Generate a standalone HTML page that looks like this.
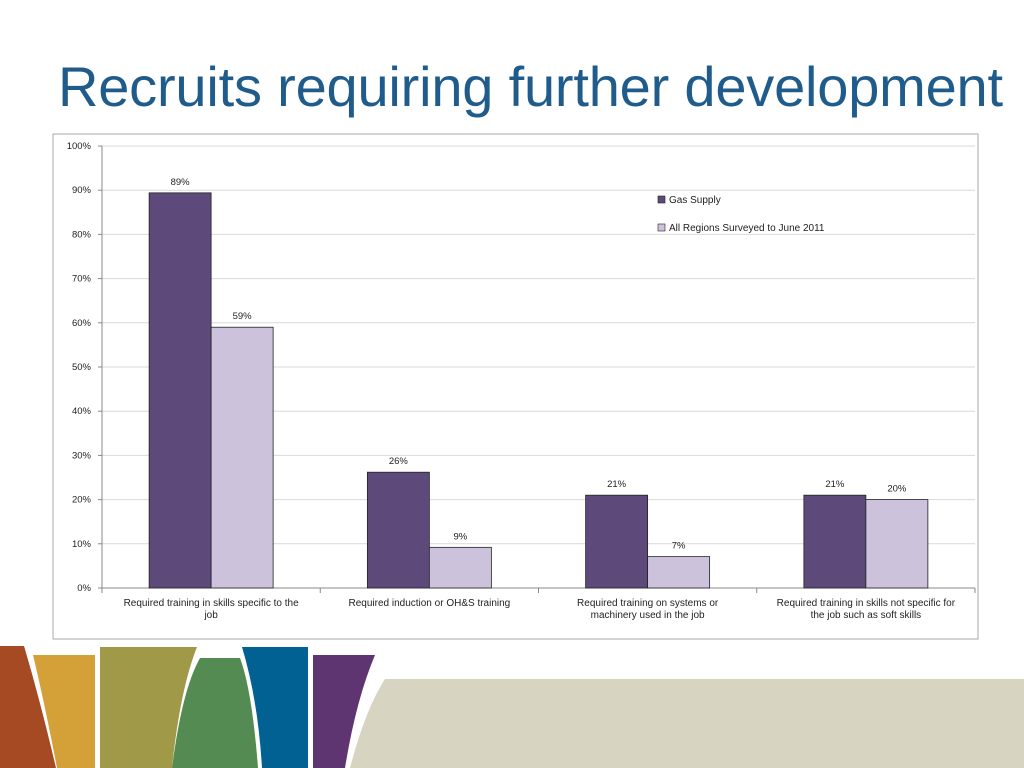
<!DOCTYPE html>
<html><head><meta charset="utf-8"><style>
body{margin:0;width:1024px;height:768px;background:#fff;overflow:hidden;font-family:"Liberation Sans",sans-serif;position:relative}
h1{position:absolute;left:58px;top:54px;margin:0;font-weight:normal;font-size:56px;color:#1F5C8B;letter-spacing:-0.2px;white-space:nowrap}
</style></head><body>
<h1>Recruits requiring further development</h1>
<svg width="1024" height="768" style="position:absolute;left:0;top:0">
<rect x="53" y="134" width="925" height="505" fill="#fff" stroke="#aaa"/>
<g id="grid"></g><g id="bars"></g>
<g font-size="10" fill="#222">
<rect x="658" y="196" width="7" height="7" fill="#5E4A7A" stroke="#222" stroke-width="0.6"/><text x="669" y="203">Gas Supply</text>
<rect x="658" y="224" width="7" height="7" fill="#CDC2DC" stroke="#222" stroke-width="0.6"/><text x="669" y="231">All Regions Surveyed to June 2011</text>
</g>
<g>
<path d="M0 646 L24 646 Q40 700 56 768 L0 768Z" fill="#A64A24"/>
<path d="M33 655 L95 655 L95 768 L57 768 Q45 705 33 655Z" fill="#D4A038"/>
<path d="M100 647 L197 647 Q180 690 172 768 L100 768Z" fill="#A09A48"/>
<path d="M200 658 L240 658 Q252 690 258 768 L172 768 Q182 690 200 658Z" fill="#548B52"/>
<path d="M242 647 L308 647 L308 768 L262 768 Q258 700 242 647Z" fill="#006192"/>
<path d="M313 655 L375 655 Q356 700 345 768 L313 768Z" fill="#5E3570"/>
<path d="M385 679 L1024 679 L1024 768 L350 768 Q365 710 385 679Z" fill="#D8D4C2"/>
</g>
</svg>
<script>
const categories=[["Required training in skills specific to the","job"],["Required induction or OH&S training"],["Required training on systems  or","machinery used in the job"],["Required training in skills not specific for","the job such as soft skills"]];
const gasSupply=[89.4,26.2,21,21];
const allRegions=[59,9.2,7.1,20];
const gasLabels=["89%","26%","21%","21%"];
const allLabels=["59%","9%","7%","20%"];
const ticks=[0,10,20,30,40,50,60,70,80,90,100];
const NS="http://www.w3.org/2000/svg";
const x0=102,x1=975,y0=588,y100=146;
const y=v=>y0-(y0-y100)*v/100;
const bandW=(x1-x0)/categories.length;
const cx=i=>x0+bandW*(i+0.5);
function mk(t,a,p){const e=document.createElementNS(NS,t);for(const k in a)e.setAttribute(k,a[k]);p.appendChild(e);return e;}
const g=document.getElementById('grid'),b=document.getElementById('bars');
ticks.forEach(t=>{const l=mk('line',{x1:x0,x2:x1,y1:y(t),y2:y(t),stroke:t?'#d9d9d9':'#888'},g);

const tx=mk('text',{x:x0-11,y:y(t)+3,'text-anchor':'end','font-size':'9.5',fill:'#222'},g);tx.textContent=t+'%';

mk('line',{x1:x0-4,x2:x0,y1:y(t),y2:y(t),stroke:'#888'},g);});
mk('line',{x1:x0,x2:x0,y1:y100,y2:y0,stroke:'#888'},g);
for(let i=0;i<=categories.length;i++)mk('line',{x1:x0+bandW*i,x2:x0+bandW*i,y1:y0,y2:y0+5,stroke:'#888'},g);
const bw=62;
categories.forEach((c,i)=>{
 [[gasSupply,gasLabels,'#5E4A7A',-bw],[allRegions,allLabels,'#CDC2DC',0]].forEach(([arr,lab,col,off])=>{
  const r=mk('rect',{x:cx(i)+off,y:y(arr[i]),width:bw,height:y0-y(arr[i]),fill:col,stroke:'#222','stroke-width':'0.8'},b);
  
  const t=mk('text',{x:cx(i)+off+bw/2,y:y(arr[i])-8,'text-anchor':'middle','font-size':'9.5',fill:'#222'},b);t.textContent=lab[i];
  
 });
 c.forEach((line,k)=>{const t=mk('text',{x:cx(i),y:606+k*12,'text-anchor':'middle','font-size':'10',fill:'#222'},b);t.textContent=line;
 });
});
</script>
</body></html>
